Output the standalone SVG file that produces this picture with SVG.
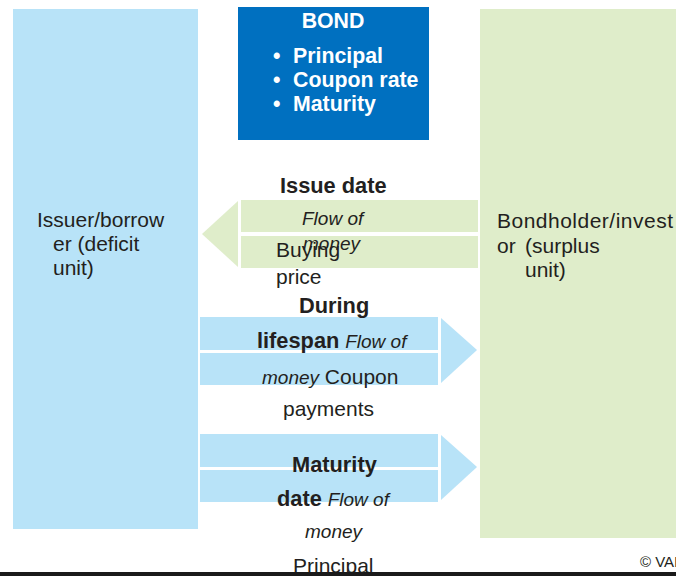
<svg xmlns="http://www.w3.org/2000/svg" width="676" height="576" viewBox="0 0 676 576">
  <style>
    text { font-family: "Liberation Sans", Arial, sans-serif; fill: #231f20; font-size: 21px; }
    .b { font-weight: bold; font-size: 21.8px; }
    .i { font-style: italic; font-size: 19px; }
    .w { fill: #ffffff; font-weight: bold; font-size: 21.3px; }
    .blue { fill: #b8e3f8; }
    .green { fill: #dfedca; }
  </style>
  <rect width="676" height="576" fill="#ffffff"/>

  <!-- Issuer -->
  <g id="issuer">
    <rect class="blue" x="13" y="9" width="185" height="520"/>
    <text x="37" y="227">Issuer/borrow</text>
    <text x="53" y="251">er (deficit</text>
    <text x="53" y="275">unit)</text>
  </g>

  <!-- Bondholder -->
  <g id="bondholder">
    <rect class="green" x="480" y="9" width="200" height="529"/>
    <text x="497" y="228" textLength="176">Bondholder/invest</text>
    <text x="497" y="253">or</text>
    <text x="525" y="253">(surplus</text>
    <text x="525" y="277">unit)</text>
  </g>

  <!-- Bond terms -->
  <g id="bond">
    <rect x="238" y="7" width="191" height="133" fill="#0070c0"/>
    <text class="w" x="333" y="28" text-anchor="middle">BOND</text>
    <text class="w" x="273" y="63">•</text>
    <text class="w" x="293" y="63">Principal</text>
    <text class="w" x="273" y="87">•</text>
    <text class="w" x="293" y="87">Coupon rate</text>
    <text class="w" x="273" y="111">•</text>
    <text class="w" x="293" y="111">Maturity</text>
  </g>

  <!-- Flows of money -->
  <g id="connectors">
    <g id="flow-issue">
      <rect class="green" x="241" y="200" width="237" height="32"/>
      <rect class="green" x="241" y="236" width="237" height="32"/>
      <polygon class="green" points="238,201 238,267 202,234"/>
    </g>
    <g id="flow-coupon">
      <rect class="blue" x="200" y="317" width="238" height="33"/>
      <rect class="blue" x="200" y="353" width="238" height="32"/>
      <polygon class="blue" points="441,318 441,383 477,350"/>
    </g>
    <g id="flow-principal">
      <rect class="blue" x="200" y="434" width="238" height="33"/>
      <rect class="blue" x="200" y="470" width="238" height="32"/>
      <polygon class="blue" points="441,435 441,500 477,467"/>
    </g>
  </g>

  <!-- Flow labels -->
  <g id="label-issue">
    <text class="b" x="280" y="193">Issue date</text>
    <text class="i" x="302" y="225">Flow of</text>
    <text class="i" x="303" y="250">money</text>
    <text x="276" y="257">Buying</text>
    <text x="276" y="284">price</text>
  </g>
  <g id="label-coupon">
    <text class="b" x="299" y="313">During</text>
    <text x="257" y="348"><tspan class="b">lifespan</tspan> <tspan class="i">Flow of</tspan></text>
    <text x="262" y="384"><tspan class="i">money</tspan> Coupon</text>
    <text x="283" y="416">payments</text>
  </g>
  <g id="label-principal">
    <text class="b" x="292" y="472">Maturity</text>
    <text x="277" y="506"><tspan class="b">date</tspan> <tspan class="i">Flow of</tspan></text>
    <text class="i" x="305" y="538">money</text>
    <text x="293" y="573">Principal</text>
  </g>

  <text x="640" y="567" style="font-size:15px">© VAI</text>
  <rect x="0" y="572" width="676" height="4" fill="#1a1a1a"/>
</svg>
